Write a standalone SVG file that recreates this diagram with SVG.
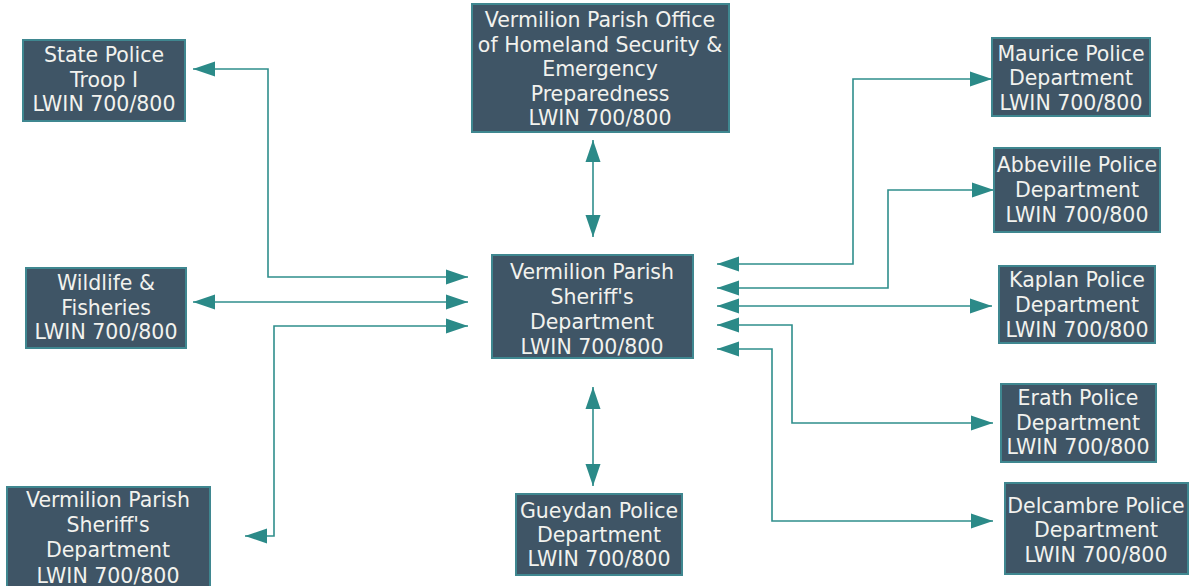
<svg xmlns="http://www.w3.org/2000/svg" width="1198" height="586" viewBox="0 0 1198 586">
<style>
.box{fill:#3f5566;stroke:#3f8790;stroke-width:2}
.t{font-family:"DejaVu Sans","Verdana",sans-serif;font-size:20.5px;fill:#f2f2ee;text-anchor:middle}
.c{fill:none;stroke:#2f8e8c;stroke-width:1.6}
</style>
<defs>
<marker id="ah" markerUnits="userSpaceOnUse" markerWidth="24" markerHeight="17" refX="22" refY="8" orient="auto-start-reverse" viewBox="0 0 24 17">
<path d="M0,0.5 L22,8 L0,15.5 Z" fill="#2b8a88"/>
</marker>
</defs>
<rect width="1198" height="586" fill="#ffffff"/>
<g id="connectors">
<path class="c" d="M193 69 H268 V277 H468" marker-start="url(#ah)" marker-end="url(#ah)"/>
<path class="c" d="M193 302 H468" marker-start="url(#ah)" marker-end="url(#ah)"/>
<path class="c" d="M245 536 H274 V326 H468" marker-start="url(#ah)" marker-end="url(#ah)"/>
<path class="c" d="M593 140 V237" marker-start="url(#ah)" marker-end="url(#ah)"/>
<path class="c" d="M593 387 V486" marker-start="url(#ah)" marker-end="url(#ah)"/>
<path class="c" d="M717 264 H853 V79 H992" marker-start="url(#ah)" marker-end="url(#ah)"/>
<path class="c" d="M717 288 H888 V190 H994" marker-start="url(#ah)" marker-end="url(#ah)"/>
<path class="c" d="M717 306 H992" marker-start="url(#ah)" marker-end="url(#ah)"/>
<path class="c" d="M717 325 H792 V423 H993" marker-start="url(#ah)" marker-end="url(#ah)"/>
<path class="c" d="M717 349 H772 V521 H993" marker-start="url(#ah)" marker-end="url(#ah)"/>
</g>
<g id="state-police">
<rect class="box" x="23" y="40" width="162" height="81"/>
<text class="t"><tspan x="104" y="62">State Police</tspan><tspan x="104" y="87">Troop I</tspan><tspan x="104" y="111">LWIN 700/800</tspan></text>
</g>
<g id="homeland">
<rect class="box" x="472" y="4" width="257" height="128"/>
<text class="t"><tspan x="600" y="27">Vermilion Parish Office</tspan><tspan x="600" y="51.5">of Homeland Security &amp;</tspan><tspan x="600" y="76">Emergency</tspan><tspan x="600" y="100.5">Preparedness</tspan><tspan x="600" y="125">LWIN 700/800</tspan></text>
</g>
<g id="maurice">
<rect class="box" x="992" y="38" width="158" height="78"/>
<text class="t"><tspan x="1071" y="61">Maurice Police</tspan><tspan x="1071" y="85">Department</tspan><tspan x="1071" y="110">LWIN 700/800</tspan></text>
</g>
<g id="abbeville">
<rect class="box" x="994" y="148" width="166" height="84"/>
<text class="t"><tspan x="1077" y="172">Abbeville Police</tspan><tspan x="1077" y="197">Department</tspan><tspan x="1077" y="222">LWIN 700/800</tspan></text>
</g>
<g id="wildlife">
<rect class="box" x="26" y="268" width="160" height="80"/>
<text class="t"><tspan x="106" y="290">Wildlife &amp;</tspan><tspan x="106" y="315">Fisheries</tspan><tspan x="106" y="339">LWIN 700/800</tspan></text>
</g>
<g id="sheriff">
<rect class="box" x="492" y="255" width="201" height="103"/>
<text class="t"><tspan x="592" y="279">Vermilion Parish</tspan><tspan x="592" y="304">Sheriff's</tspan><tspan x="592" y="329">Department</tspan><tspan x="592" y="354">LWIN 700/800</tspan></text>
</g>
<g id="kaplan">
<rect class="box" x="999" y="266" width="156" height="77"/>
<text class="t"><tspan x="1077" y="287">Kaplan Police</tspan><tspan x="1077" y="312">Department</tspan><tspan x="1077" y="337">LWIN 700/800</tspan></text>
</g>
<g id="erath">
<rect class="box" x="1001" y="384" width="155" height="78"/>
<text class="t"><tspan x="1078" y="405">Erath Police</tspan><tspan x="1078" y="430">Department</tspan><tspan x="1078" y="454">LWIN 700/800</tspan></text>
</g>
<g id="sheriff-2">
<rect class="box" x="7" y="487" width="203" height="105"/>
<text class="t"><tspan x="108" y="507">Vermilion Parish</tspan><tspan x="108" y="532">Sheriff's</tspan><tspan x="108" y="557">Department</tspan><tspan x="108" y="583">LWIN 700/800</tspan></text>
</g>
<g id="gueydan">
<rect class="box" x="516" y="494" width="166" height="81"/>
<text class="t"><tspan x="599" y="518">Gueydan Police</tspan><tspan x="599" y="542">Department</tspan><tspan x="599" y="566">LWIN 700/800</tspan></text>
</g>
<g id="delcambre">
<rect class="box" x="1005" y="483" width="183" height="91"/>
<text class="t"><tspan x="1096" y="513">Delcambre Police</tspan><tspan x="1096" y="537">Department</tspan><tspan x="1096" y="562">LWIN 700/800</tspan></text>
</g>
</svg>
